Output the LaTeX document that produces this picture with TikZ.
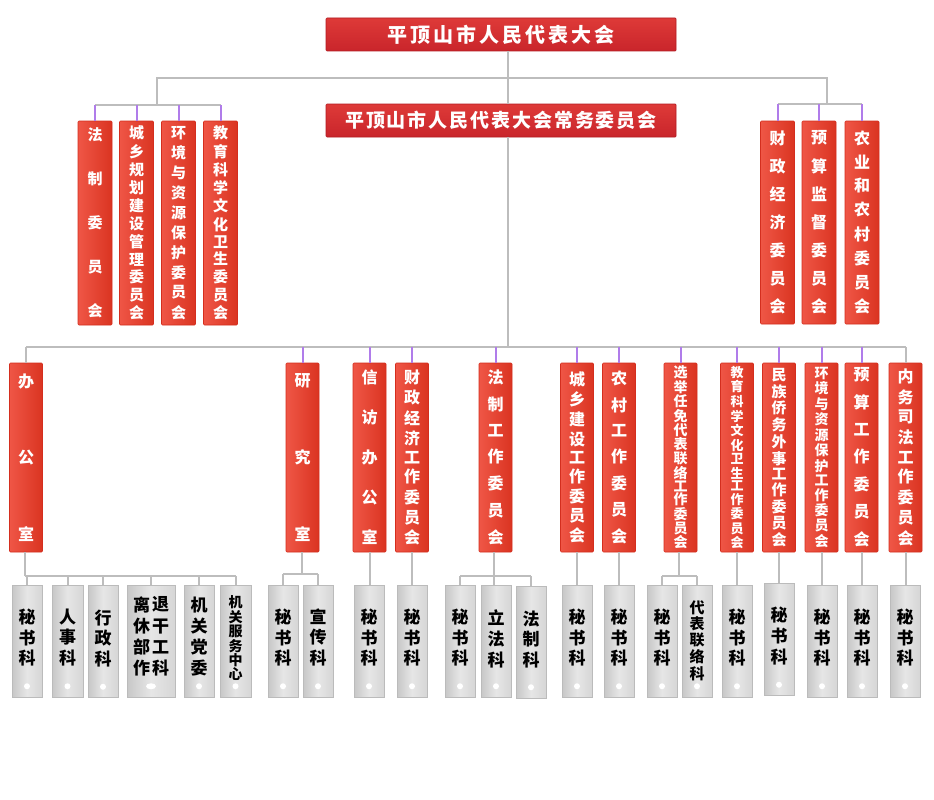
\documentclass[tikz,border=0pt]{standalone}
\usepackage{fontspec}
\newfontfamily\cjk{Noto Sans CJK SC}
\makeatletter
\def\vst@a#1{\hbox to 1em{\hss#1\hss}\vst@b}
\def\vst@b#1{\ifx#1\relax\else\vfill\hbox to 1em{\hss#1\hss}\expandafter\vst@b\fi}
\newcommand\vst[2]{\vbox to #1pt{\offinterlineskip\vst@a#2\relax\kern0pt}}
\newcommand\gst[3]{\vbox{\offinterlineskip\vst{#1}{#2}\kern#3pt}}
\makeatother
\definecolor{bannerT}{HTML}{DE3A38}
\definecolor{bannerB}{HTML}{C9252B}
\definecolor{bannerD}{HTML}{B31B22}
\definecolor{redL}{HTML}{EF5646}
\definecolor{redR}{HTML}{DA3421}
\definecolor{redD}{HTML}{D42E1E}
\definecolor{grayL}{HTML}{C7C7C7}
\definecolor{grayM}{HTML}{E6E6E6}
\definecolor{grayR}{HTML}{D6D6D6}
\definecolor{grayD}{HTML}{BBBBBB}
\definecolor{lineG}{HTML}{BDBDBD}
\definecolor{lineP}{HTML}{B07CEA}
\tikzset{
  fs/.style={font=\cjk\bfseries\fontsize{#1}{#1}\selectfont},
  banner/.style={draw=bannerD, line width=0.7pt, top color=bannerT, bottom color=bannerB,
    minimum width=350pt, minimum height=33pt, inner sep=0pt, text=white, rounded corners=1pt},
  redbox/.style={draw=redD, line width=0.6pt, left color=redL, right color=redR,
    minimum width=34pt, inner sep=0pt, text=white, rounded corners=1pt, fs=16},
  rtop/.style={redbox, minimum height=204pt},
  rmid/.style={redbox, minimum width=33pt, minimum height=189pt},
  graybox/.style={draw=grayD, line width=0.5pt, left color=grayL, right color=grayR, middle color=grayM,
    minimum width=30pt, minimum height=112pt, inner sep=0pt, text=black, fs=17},
  gline/.style={draw=lineG, line width=2pt},
  pline/.style={draw=lineP, line width=2pt},
}
\begin{document}
\begin{tikzpicture}[x=1pt,y=-1pt]
\fill[white] (0,0) rectangle (934,800);
\useasboundingbox (0,0) rectangle (934,800);

% top banners
\node[banner, fs=20] (npc) at (501,34.5) {\addfontfeature{LetterSpace=15}平顶山市人民代表大会};
\node[banner, fs=19] (sc) at (501,120.5) {\addfontfeature{LetterSpace=10}平顶山市人民代表大会常务委员会};

% special committees
\node[rtop, fs=15] (L1) at (95,223) {\vst{190}{法制委员会}};
\node[rtop, fs=15] (L2) at (136.5,223) {\vst{194}{城乡规划建设管理委员会}};
\node[rtop, fs=15] (L3) at (178.5,223) {\vst{193}{环境与资源保护委员会}};
\node[rtop, fs=15] (L4) at (220.5,223) {\vst{194}{教育科学文化卫生委员会}};
\node[rtop, minimum height=203pt] (R1) at (777.5,222.5) {\vst{184}{财政经济委员会}};
\node[rtop, minimum height=203pt] (R2) at (819,222.5) {\vst{184}{预算监督委员会}};
\node[rtop, minimum height=203pt] (R3) at (862,222.5) {\vst{184}{农业和农村委员会}};

% working bodies
\node[rmid] (M1) at (26,457.5) {\vst{168}{办公室}};
\node[rmid] (M2) at (302.5,457.5) {\vst{168}{研究室}};
\node[rmid] (M3) at (369.5,457.5) {\vst{175}{信访办公室}};
\node[rmid] (M4) at (412,457.5) {\vst{176}{财政经济工作委员会}};
\node[rmid] (M5) at (495.5,457.5) {\vst{176}{法制工作委员会}};
\node[rmid] (M6) at (577,457.5) {\vst{171}{城乡建设工作委员会}};
\node[rmid] (M7) at (619,457.5) {\vst{174}{农村工作委员会}};
\node[rmid, fs=14] (M8) at (680.5,457.5) {\vst{183}{选举任免代表联络工作委员会}};
\node[rmid, fs=13] (M9) at (737,457.5) {\vst{183}{教育科学文化卫生工作委员会}};
\node[rmid, fs=15] (M10) at (779,457.5) {\vst{179}{民族侨务外事工作委员会}};
\node[rmid, fs=14] (M11) at (821.5,457.5) {\vst{181}{环境与资源保护工作委员会}};
\node[rmid] (M12) at (861.5,457.5) {\vst{180}{预算工作委员会}};
\node[rmid] (M13) at (905.5,457.5) {\vst{178}{内务司法工作委员会}};

% sections
\node[graybox] (B1) at (27,641) {\gst{58}{秘书科}{7}};
\node[graybox, minimum width=31pt] (B2) at (67.5,641) {\gst{58}{人事科}{7}};
\node[graybox] (B3) at (103,641.5) {\gst{58}{行政科}{6}};
\node[graybox, minimum width=48pt] (B4) at (151,641) {\vbox{\offinterlineskip\hbox{\vst{80}{离休部作}\kern2pt\vst{80}{退干工科}}\kern9pt}};
\node[graybox] (B5) at (199,641) {\gst{80}{机关党委}{9}};
\node[graybox, minimum width=31pt, fs=14] (B6) at (235.5,641) {\gst{85}{机关服务中心}{5}};
\node[graybox] (B7) at (283,641) {\gst{58}{秘书科}{7}};
\node[graybox] (B8) at (318,641) {\gst{58}{宣传科}{7}};
\node[graybox] (B9) at (369,641) {\gst{58}{秘书科}{7}};
\node[graybox] (B10) at (412,641) {\gst{58}{秘书科}{7}};
\node[graybox] (B11) at (460,641) {\gst{58}{秘书科}{7}};
\node[graybox] (B12) at (496,641) {\gst{58}{立法科}{4}};
\node[graybox] (B13) at (531,642) {\gst{58}{法制科}{5}};
\node[graybox] (B14) at (577,641) {\gst{58}{秘书科}{7}};
\node[graybox] (B15) at (619,641) {\gst{58}{秘书科}{7}};
\node[graybox] (B16) at (662,641) {\gst{58}{秘书科}{7}};
\node[graybox, fs=15] (B17) at (697,641) {\gst{80}{代表联络科}{1}};
\node[graybox] (B18) at (737,641) {\gst{58}{秘书科}{7}};
\node[graybox] (B19) at (779,639.5) {\gst{58}{秘书科}{7}};
\node[graybox] (B20) at (822,641) {\gst{58}{秘书科}{7}};
\node[graybox] (B21) at (862,641) {\gst{58}{秘书科}{7}};
\node[graybox] (B22) at (905,641) {\gst{58}{秘书科}{7}};

\foreach \b in {B1,B2,B3,B5,B6,B7,B8,B9,B10,B11,B12,B13,B14,B15,B16,B17,B18,B19,B20,B21,B22}
  \fill[white] ([yshift=11pt]\b.south) circle (3pt);
\fill[white] ([yshift=11pt]B4.south) ellipse (5pt and 3pt);

% junctions
\coordinate (jL) at (157,105);
\coordinate (jR) at (827,104);
\coordinate (jM) at (508,347);
\coordinate (k1) at (25,576);
\coordinate (k2) at (302,574);
\coordinate (k5) at (494,576);
\coordinate (k8) at (679,576);

% main trunk
\draw[gline] (npc.south -| jM) -- (sc.north -| jM);
\draw[gline] (sc.south -| jM) -- (jM);
\draw[gline] (jL) -- ++(0,-27) -| (jR);
\draw[gline] (L1.north |- jL) -- (L4.north |- jL);
\foreach \n in {L1,L2,L3,L4} \draw[pline] (\n.north |- jL) -- (\n.north);
\draw[gline] (R1.north |- jR) -- (R3.north |- jR);
\foreach \n in {R1,R2,R3} \draw[pline] (\n.north |- jR) -- (\n.north);
\draw[gline] (M1.north |- jM) -- (M13.north |- jM);
\draw[gline] (M1.north |- jM) -- (M1.north);
\draw[gline] (M13.north |- jM) -- (M13.north);
\foreach \n in {M2,M3,M4,M5,M6,M7,M8,M9,M10,M11,M12} \draw[pline] (\n.north |- jM) -- (\n.north);

% lower branches
\draw[gline] (M1.south -| k1) -- (k1);
\draw[gline] (k1) -- (B6.north |- k1);
\foreach \b in {B1,B2,B3,B4,B5,B6} \draw[gline] (\b.north |- k1) -- (\b.north);
\draw[gline] (M2.south -| k2) -- (k2);
\draw[gline] (B7.north |- k2) -- (B8.north |- k2);
\foreach \b in {B7,B8} \draw[gline] (\b.north |- k2) -- (\b.north);
\draw[gline] (M5.south -| k5) -- (B12.north -| k5);
\draw[gline] (B11.north |- k5) -- (B13.north |- k5);
\foreach \b in {B11,B13} \draw[gline] (\b.north |- k5) -- (\b.north);
\draw[gline] (M8.south -| k8) -- (k8);
\draw[gline] (B16.north |- k8) -- (B17.north |- k8);
\foreach \b in {B16,B17} \draw[gline] (\b.north |- k8) -- (\b.north);
\draw[gline] (M3.south) -- (M3.south |- B9.north);
\draw[gline] (M4.south) -- (M4.south |- B10.north);
\draw[gline] (M6.south) -- (M6.south |- B14.north);
\draw[gline] (M7.south) -- (M7.south |- B15.north);
\draw[gline] (M9.south) -- (M9.south |- B18.north);
\draw[gline] (M10.south) -- (M10.south |- B19.north);
\draw[gline] (M11.south) -- (M11.south |- B20.north);
\draw[gline] (M12.south) -- (M12.south |- B21.north);
\draw[gline] (M13.south) -- (M13.south |- B22.north);
\end{tikzpicture}
\end{document}
